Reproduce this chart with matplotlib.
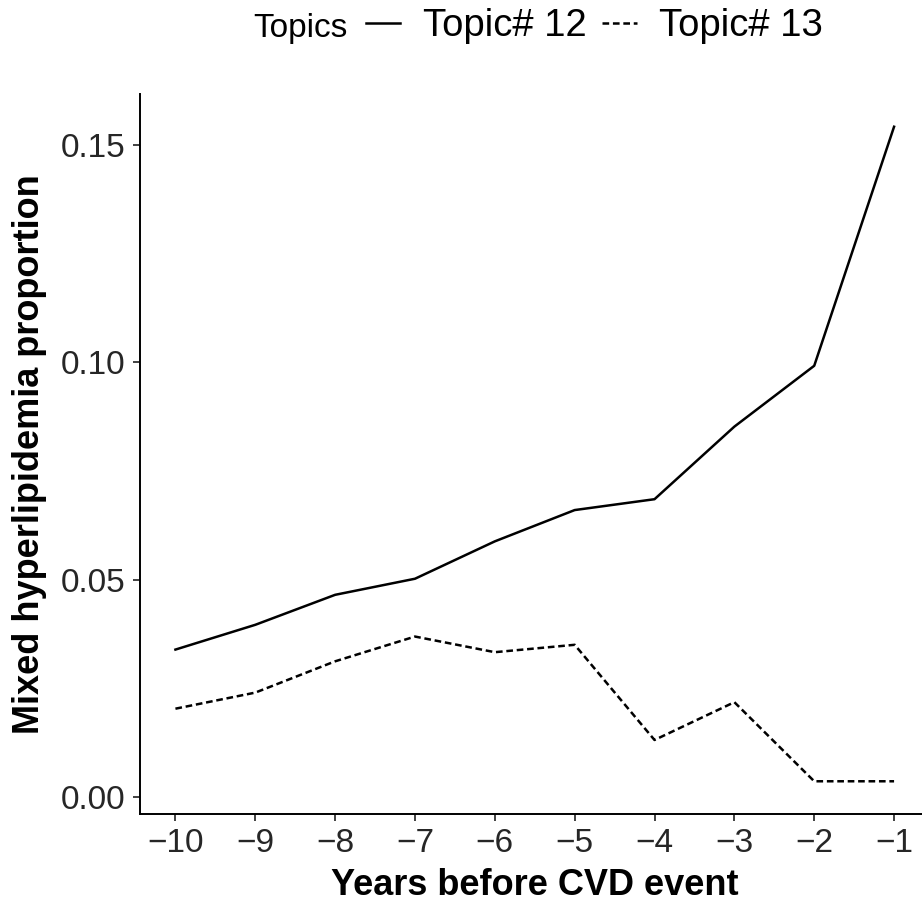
import matplotlib
matplotlib.use("Agg")
import matplotlib.pyplot as plt
from matplotlib.lines import Line2D

plt.rcParams['font.family'] = ['Liberation Sans', 'DejaVu Sans']
plt.rcParams['lines.scale_dashes'] = False

# Years before the CVD event
years = [-10, -9, -8, -7, -6, -5, -4, -3, -2, -1]
# Proportion of mixed hyperlipidemia per topic
topic12 = [0.0339, 0.0396, 0.0465, 0.0502, 0.0588, 0.0660, 0.0685, 0.0852, 0.0992, 0.1542]
topic13 = [0.0203, 0.0240, 0.0312, 0.0369, 0.0333, 0.0350, 0.0131, 0.0218, 0.0036, 0.0036]
series_labels = ["Topic# 12", "Topic# 13"]
legend_title = "Topics"
x_ticks = years
y_ticks = [0.00, 0.05, 0.10, 0.15]

W, H = 922, 906
fig = plt.figure(figsize=(W / 100, H / 100), dpi=100)
ax = fig.add_axes([139.5 / W, (H - 814) / H, (930 - 139.5) / W, (814 - 94) / H])

solid_style = dict(color="black", lw=1.8, solid_joinstyle="round")
dash_style = dict(color="black", lw=1.8, linestyle=(0, (4.8, 2.7)), dash_capstyle="butt")

ax.plot(years, topic12, **solid_style)
ax.plot(years, topic13, **dash_style)
ax.margins(x=0.05, y=0.05)

for side in ("top", "right"):
    ax.spines[side].set_visible(False)
for side in ("left", "bottom"):
    ax.spines[side].set_linewidth(1.4)
    ax.spines[side].set_color("black")

ax.set_xticks(x_ticks)
ax.set_xticklabels([f"\u2212{abs(v)}" for v in x_ticks])
ax.set_yticks(y_ticks)
ax.set_yticklabels([f"{v:.2f}" for v in y_ticks])
ax.tick_params(axis="both", direction="out", length=5.0, width=1.3, color="#333333",
               labelsize=24, labelcolor="#262626")
ax.tick_params(axis="x", pad=5)
ax.tick_params(axis="y", pad=5)

fig.text(535 / W, (H - 895) / H, "Years before CVD event", ha="center", va="baseline",
         fontsize=26, fontweight="bold")
fig.text(30 / W, 1 - 454 / H, "Mixed hyperlipidemia proportion", ha="center", va="center",
         rotation=90, fontsize=26, fontweight="bold")

# legend across the top
fig.text(253 / W, (H - 37) / H, legend_title, ha="left", va="baseline", fontsize=24)
handles = [Line2D([], [], **solid_style), Line2D([], [], **dash_style)]
fig.legend(handles, series_labels, ncol=2, frameon=False, fontsize=27.5,
           loc="center left", bbox_to_anchor=(366 / W, 1 - 26 / H),
           borderpad=0, borderaxespad=0, handlelength=0.9, handletextpad=0.6,
           columnspacing=0.4)

fig.savefig("out.png", dpi=100)
